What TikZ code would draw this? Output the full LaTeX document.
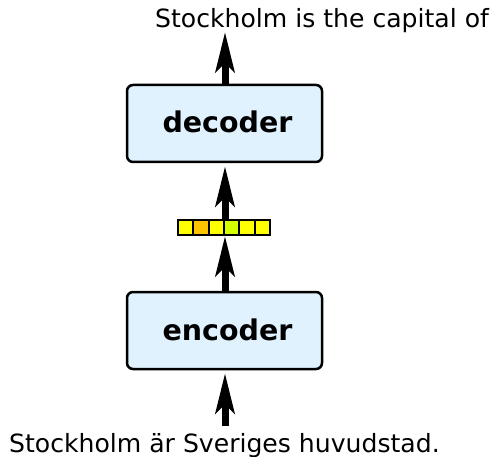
\documentclass[tikz,border=0pt]{standalone}
\usepackage{fontspec}
\setmainfont{DejaVu Sans}
\usetikzlibrary{arrows.meta}
\definecolor{boxfill}{HTML}{DFF2FD}
\definecolor{cyellow}{HTML}{FFFF00}
\definecolor{corange}{HTML}{FFC400}
\definecolor{cgreen}{HTML}{D4FF00}
\begin{document}
\begin{tikzpicture}[x=1pt,y=-1pt,
  blockbox/.style={draw=black, line width=2.5pt, rounded corners=6pt, fill=boxfill,
    minimum width=195pt, minimum height=77pt, inner sep=0pt,
    font=\fontsize{28.5}{30}\selectfont\bfseries, text height=19pt, text depth=0pt},
  cell/.style={draw=black, line width=2pt, minimum width=15.33pt, minimum height=15pt, inner sep=0pt, outer sep=0pt},
  bigarrow/.style={line width=7pt, -{Stealth[length=40pt, width=19pt, inset=9pt]}},
  sent/.style={font=\fontsize{25.1}{28}\selectfont, inner sep=0pt}
]
\path[use as bounding box] (0,0) rectangle (495,457);
\node[blockbox] (dec) at (224.5,123.5) {\hspace*{6pt}decoder};
\node[blockbox] (enc) at (224.5,330.5) {\hspace*{6pt}encoder};
\node[cell, fill=cyellow] (c1) at (185.67,227.5) {};
\node[cell, fill=corange] (c2) at (201.0,227.5) {};
\node[cell, fill=cyellow] (c3) at (216.33,227.5) {};
\node[cell, fill=cgreen]  (c4) at (231.67,227.5) {};
\node[cell, fill=cyellow] (c5) at (247.0,227.5) {};
\node[cell, fill=cyellow] (c6) at (262.33,227.5) {};
\node[sent, anchor=base west] (out) at (155,28) {Stockholm is the capital of};
\node[sent, anchor=base west] (in) at (9,452) {Stockholm är Sveriges huvudstad.};
\coordinate (outtip) at (225,32);
\coordinate (inbase) at (225,426);
\draw[bigarrow] ([xshift=0.5pt]dec.north) -- (outtip);
\draw[bigarrow] ([xshift=0.5pt]dec.south |- c1.north) -- ([xshift=0.5pt,yshift=-3pt]dec.south);
\draw[bigarrow] ([xshift=0.5pt]enc.north) -- ([xshift=0.5pt,yshift=-1pt]enc.north |- c1.south);
\draw[bigarrow] (inbase) -- ([xshift=0.5pt,yshift=-3pt]enc.south);
\end{tikzpicture}
\end{document}
